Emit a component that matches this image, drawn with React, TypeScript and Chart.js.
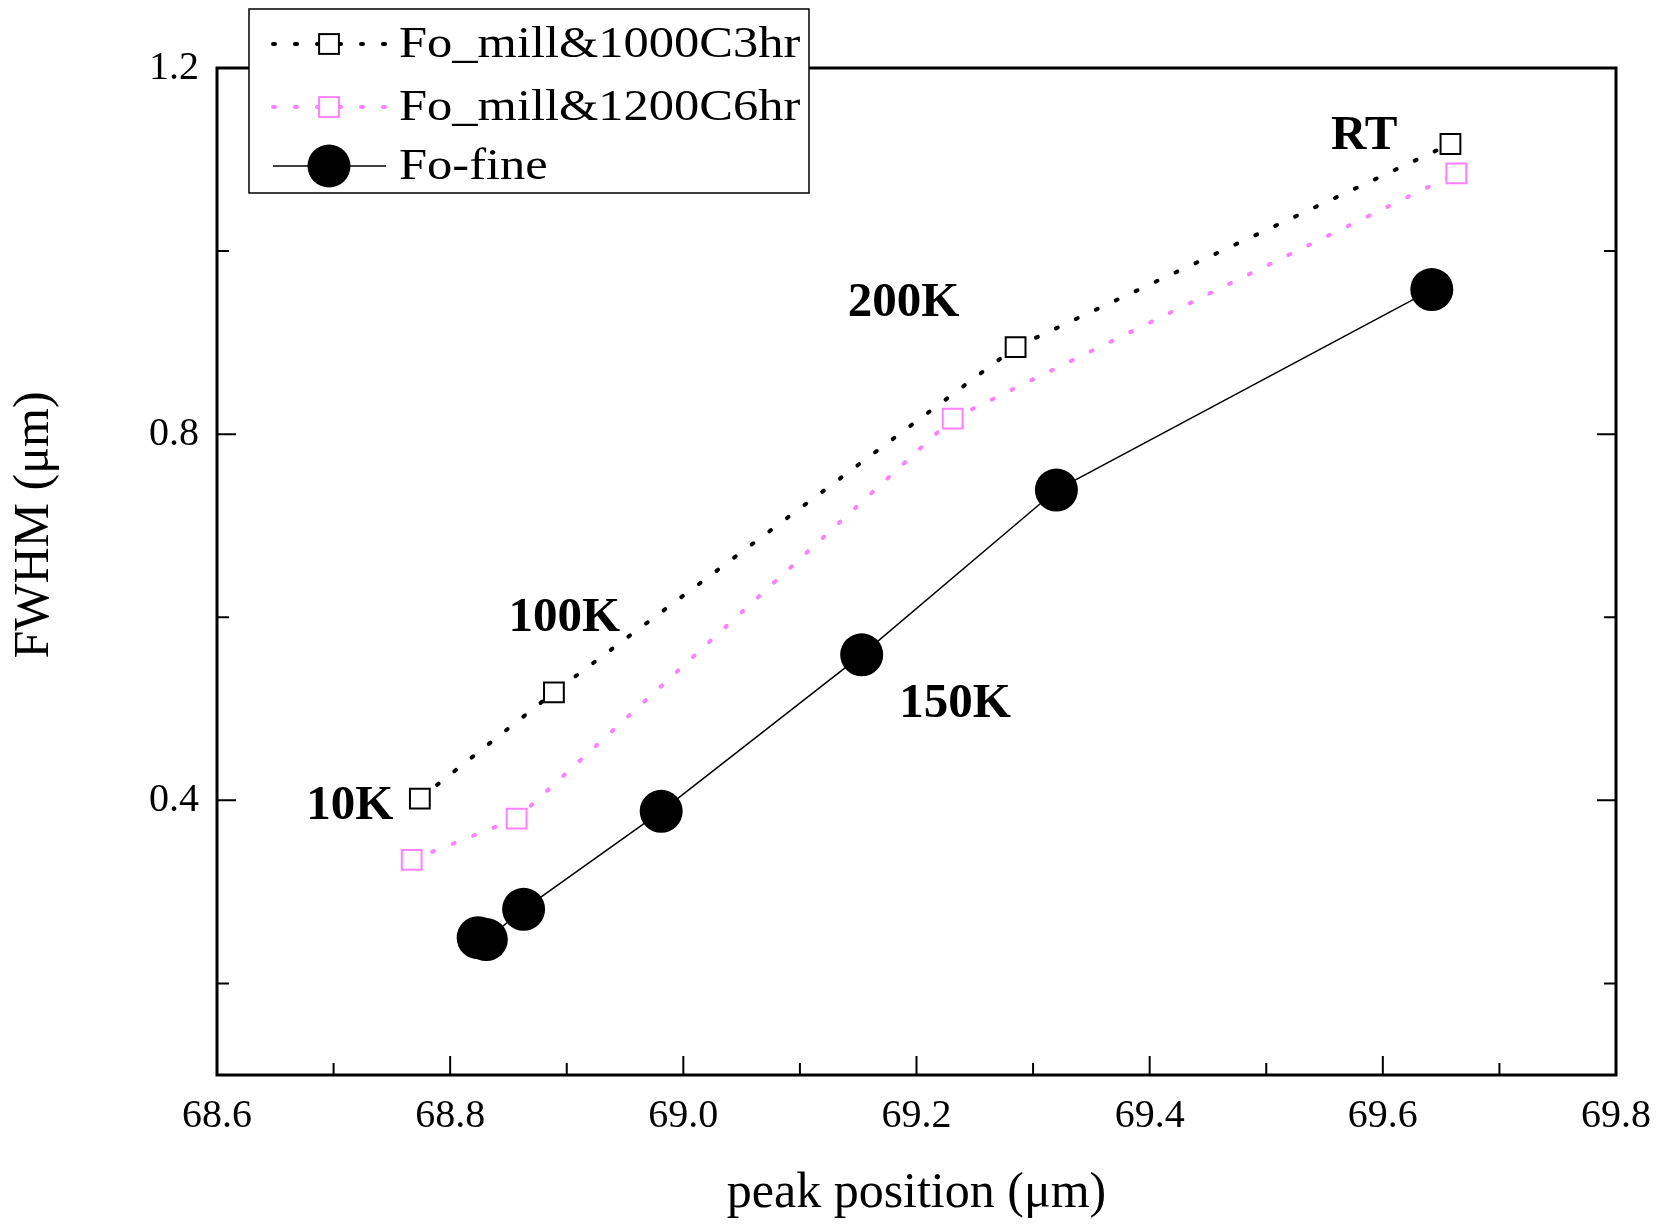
import React, { useEffect, useRef } from 'react';
import { Chart, registerables } from 'chart.js';

Chart.register(...registerables);

// ---- data ----
const millA_x = [68.774, 68.889, 69.285, 69.658];
const millA_y = [0.402, 0.518, 0.895, 1.117];
const millB_x = [68.767, 68.857, 69.231, 69.663];
const millB_y = [0.335, 0.380, 0.817, 1.085];
const fine_x = [68.824, 68.831, 68.863, 68.981, 69.153, 69.320, 69.642];
const fine_y = [0.250, 0.248, 0.281, 0.388, 0.559, 0.739, 0.958];

const seriesNames = ['Fo_mill&1000C3hr', 'Fo_mill&1200C6hr', 'Fo-fine'];

const xTicks = [68.6, 68.7, 68.8, 68.9, 69.0, 69.1, 69.2, 69.3, 69.4, 69.5, 69.6, 69.7, 69.8];
const xLabels = ['68.6', '68.8', '69.0', '69.2', '69.4', '69.6', '69.8'];
const yTicks = [0.2, 0.4, 0.6, 0.8, 1.0, 1.2];
const yLabels = ['0.4', '0.8', '1.2'];

const annLabels = ['10K', '100K', '150K', '200K', 'RT'];
const annX = [68.714, 68.898, 69.233, 69.189, 69.584];
const annY = [0.393, 0.599, 0.505, 0.943, 1.125];

const PINK = 'rgb(255,128,255)';
const SERIF = '"Liberation Serif", "Times New Roman", serif';

const toPts = (xs: number[], ys: number[]) => xs.map((x, i) => ({ x, y: ys[i] }));

const framePlugin = {
  id: 'frameTicks',
  beforeDatasetsDraw(chart: any) {
    const { ctx, chartArea: a, scales } = chart;
    const xs = scales.x;
    const ys = scales.y;
    ctx.save();
    ctx.strokeStyle = '#000';
    ctx.lineWidth = 2;
    ctx.beginPath();
    xTicks.forEach((v) => {
      const px = xs.getPixelForValue(v);
      const major = xLabels.includes(v.toFixed(1));
      const len = major ? 19 : 12;
      ctx.moveTo(px, a.bottom);
      ctx.lineTo(px, a.bottom - len);
    });
    yTicks.forEach((v) => {
      const py = ys.getPixelForValue(v);
      const major = yLabels.includes(v.toFixed(1));
      const len = major ? 19 : 12;
      ctx.moveTo(a.left, py);
      ctx.lineTo(a.left + len, py);
      ctx.moveTo(a.right, py);
      ctx.lineTo(a.right - len, py);
    });
    ctx.stroke();
    ctx.lineWidth = 3;
    ctx.strokeRect(a.left, a.top, a.right - a.left, a.bottom - a.top);
    ctx.restore();
  },
  afterDatasetsDraw(chart: any) {
    const { ctx, scales, chartArea: a } = chart;
    ctx.save();
    ctx.fillStyle = '#000';
    ctx.font = `bold 49px ${SERIF}`;
    ctx.textAlign = 'center';
    ctx.textBaseline = 'middle';
    annLabels.forEach((t, i) => {
      ctx.fillText(t, scales.x.getPixelForValue(annX[i]), scales.y.getPixelForValue(annY[i]));
    });
    // axis titles
    ctx.font = `50px ${SERIF}`;
    ctx.fillText('peak position (\u03bcm)', (a.left + a.right) / 2, 1194);
    ctx.save();
    ctx.translate(35, 525);
    ctx.rotate(-Math.PI / 2);
    ctx.fillText('FWHM (\u03bcm)', 0, 0);
    ctx.restore();
    ctx.restore();
  },
  afterDraw(chart: any) {
    const { ctx } = chart;
    const ds = chart.data.datasets;
    ctx.save();
    const bx = 249, by = 9, bw = 560, bh = 184;
    ctx.fillStyle = '#fff';
    ctx.fillRect(bx, by, bw, bh);
    ctx.strokeStyle = '#000';
    ctx.lineWidth = 1.5;
    ctx.strokeRect(bx, by, bw, bh);
    const rows = [44, 107, 166];
    const lx0 = 273, lx1 = 386, mx = 329;
    rows.forEach((ry, i) => {
      const d = ds[i];
      ctx.save();
      ctx.strokeStyle = d.borderColor;
      ctx.lineWidth = d.borderWidth;
      ctx.lineCap = d.borderCapStyle || 'butt';
      ctx.setLineDash(d.borderDash || []);
      ctx.beginPath();
      ctx.moveTo(lx0, ry);
      ctx.lineTo(lx1, ry);
      ctx.stroke();
      ctx.setLineDash([]);
      if (d.pointStyle === 'rect') {
        const s = Math.SQRT1_2 * d.pointRadius;
        ctx.fillStyle = d.pointBackgroundColor;
        ctx.strokeStyle = d.pointBorderColor;
        ctx.lineWidth = d.pointBorderWidth;
        ctx.fillRect(mx - s, ry - s, 2 * s, 2 * s);
        ctx.strokeRect(mx - s, ry - s, 2 * s, 2 * s);
      } else {
        ctx.fillStyle = d.pointBackgroundColor;
        ctx.beginPath();
        ctx.arc(mx, ry, d.pointRadius, 0, Math.PI * 2);
        ctx.fill();
      }
      ctx.restore();
      ctx.save();
      ctx.fillStyle = '#000';
      ctx.font = `44px ${SERIF}`;
      ctx.textBaseline = 'middle';
      ctx.textAlign = 'left';
      ctx.translate(399, ry + 1);
      ctx.scale(1.148, 1);
      ctx.fillText(seriesNames[i], 0, 0);
      ctx.restore();
    });
    ctx.restore();
  },
};

export default function App() {
  const ref = useRef<HTMLCanvasElement | null>(null);
  useEffect(() => {
    if (!ref.current) return;
    const chart = new Chart(ref.current, {
      type: 'scatter',
      data: {
        datasets: [
          {
            label: seriesNames[0],
            data: toPts(millA_x, millA_y),
            showLine: true,
            borderColor: '#000',
            borderWidth: 4,
            borderDash: [2, 20],
            borderCapStyle: 'round',
            pointStyle: 'rect',
            pointRadius: 14,
            pointBorderWidth: 2,
            pointBorderColor: '#000',
            pointBackgroundColor: '#fff',
            clip: false,
          } as any,
          {
            label: seriesNames[1],
            data: toPts(millB_x, millB_y),
            showLine: true,
            borderColor: PINK,
            borderWidth: 4,
            borderDash: [2, 20],
            borderCapStyle: 'round',
            pointStyle: 'rect',
            pointRadius: 14,
            pointBorderWidth: 2,
            pointBorderColor: PINK,
            pointBackgroundColor: '#fff',
            clip: false,
          } as any,
          {
            label: seriesNames[2],
            data: toPts(fine_x, fine_y),
            showLine: true,
            borderColor: '#000',
            borderWidth: 1.5,
            pointStyle: 'circle',
            pointRadius: 21.5,
            pointBorderWidth: 0,
            pointBorderColor: '#000',
            pointBackgroundColor: '#000',
            clip: false,
          } as any,
        ],
      },
      options: {
        animation: false,
        responsive: true,
        maintainAspectRatio: false,
        events: [],
        layout: { padding: { left: 0, right: 41, top: 68, bottom: 0 } },
        plugins: { legend: { display: false }, tooltip: { enabled: false } },
        scales: {
          x: {
            type: 'linear',
            min: 68.6,
            max: 69.8,
            grid: { display: false, drawTicks: false },
            border: { display: false },
            afterBuildTicks: (s: any) => {
              s.ticks = xTicks.map((v) => ({ value: v }));
            },
            afterFit: (s: any) => {
              s.height = 149;
              s.paddingLeft = 0;
              s.paddingRight = 0;
            },
            ticks: {
              autoSkip: false,
              maxRotation: 0,
              padding: 17,
              color: '#000',
              font: { family: SERIF, size: 40 },
              callback: (v: any) => {
                const t = Number(v).toFixed(1);
                return xLabels.includes(t) ? t : '';
              },
            },
          },
          y: {
            type: 'linear',
            min: 0.1,
            max: 1.2,
            grid: { display: false, drawTicks: false },
            border: { display: false },
            afterBuildTicks: (s: any) => {
              s.ticks = yTicks.map((v) => ({ value: v }));
            },
            afterFit: (s: any) => {
              s.width = 217;
              s.paddingTop = 0;
              s.paddingBottom = 0;
            },
            ticks: {
              autoSkip: false,
              padding: 18,
              color: '#000',
              font: { family: SERIF, size: 40 },
              callback: (v: any) => {
                const t = Number(v).toFixed(1);
                return yLabels.includes(t) ? t : '';
              },
            },
          },
        },
      },
      plugins: [framePlugin],
    });
    return () => chart.destroy();
  }, []);
  return (
    <div style={{ position: 'absolute', left: 0, top: 0, width: 1657, height: 1224, background: '#fff' }}>
      <canvas ref={ref} />
    </div>
  );
}
